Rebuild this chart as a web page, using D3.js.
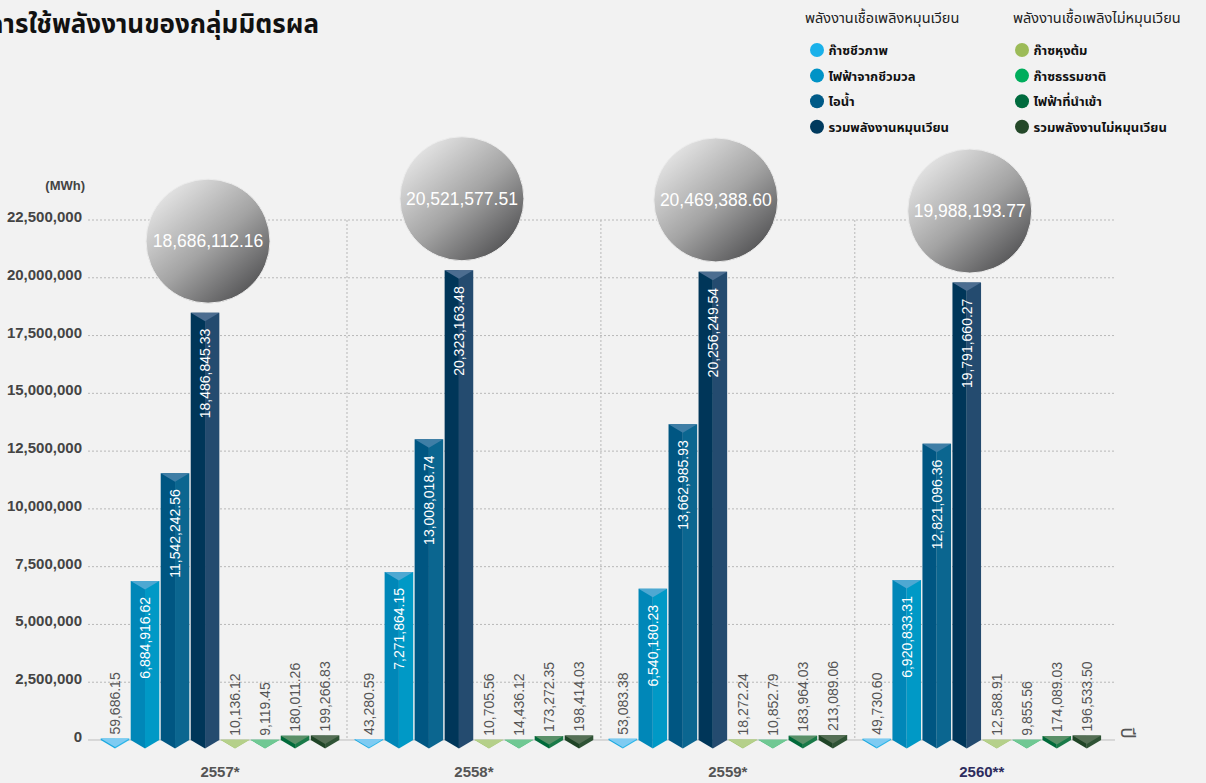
<!DOCTYPE html>
<html>
<head>
<meta charset="utf-8">
<script src="https://cdn.jsdelivr.net/npm/d3@7"></script>
<style>
  body { margin: 0; background: #f2f2f2; }
  svg { display: block; font-family: "Liberation Sans", Arial, "Noto Sans Thai", "Noto Sans", sans-serif; }
  .thai { font-family: "Noto Sans Thai", "Noto Sans", "Liberation Sans", sans-serif; }
</style>
</head>
<body>
<div id="chart"></div>
<script>
// data (MWh)
const years = ["2557*", "2558*", "2559*", "2560**"];
const series = ["ก๊าซชีวภาพ", "ไฟฟ้าจากชีวมวล", "ไอน้ำ", "รวมพลังงานหมุนเวียน",
                "ก๊าซหุงต้ม", "ก๊าซธรรมชาติ", "ไฟฟ้าที่นำเข้า", "รวมพลังงานไม่หมุนเวียน"];
const biogas = [59686.15, 43280.59, 53083.38, 49730.60];
const biomassPower = [6884916.62, 7271864.15, 6540180.23, 6920833.31];
const steam = [11542242.56, 13008018.74, 13662985.93, 12821096.36];
const renewableTotal = [18486845.33, 20323163.48, 20256249.54, 19791660.27];
const lpg = [10136.12, 10705.56, 18272.24, 12588.91];
const naturalGas = [9119.45, 14436.12, 10852.79, 9855.56];
const importedPower = [180011.26, 173272.35, 183964.03, 174089.03];
const nonRenewableTotal = [199266.83, 198414.03, 213089.06, 196533.50];
// grand totals as printed in the bubbles
const grandTotal = [18686112.16, 20521577.51, 20469388.60, 19988193.77];
const yTicks = [0, 2500000, 5000000, 7500000, 10000000, 12500000, 15000000, 17500000, 20000000, 22500000];

const seriesValues = [biogas, biomassPower, steam, renewableTotal, lpg, naturalGas, importedPower, nonRenewableTotal];

// left face, right face, top lid, legend dot
const palette = [
  {l: "#1aa9e0", r: "#2bb5e8", lid: "#7ecbf2", dot: "#1ab1ea"},
  {l: "#0087b8", r: "#0099c6", lid: "#4ea8d2", dot: "#0093c6"},
  {l: "#005682", r: "#0b6690", lid: "#3f7ea6", dot: "#005a87"},
  {l: "#003659", r: "#244b6f", lid: "#4c6d90", dot: "#003a5e"},
  {l: "#9cc064", r: "#a8c878", lid: "#b5d08a", dot: "#9cbb58"},
  {l: "#3db878", r: "#50c080", lid: "#70c893", dot: "#00ad5c"},
  {l: "#006a3a", r: "#1a7a48", lid: "#5a9068", dot: "#006b3e"},
  {l: "#1f4426", r: "#2f5335", lid: "#556f55", dot: "#244829"}
];

const W = 1206, H = 783;
const svg = d3.select("#chart").append("svg").attr("width", W).attr("height", H);

const y = d3.scaleLinear().domain([0, 22500000]).range([740, 220]);
const x0 = d3.scaleBand().domain(years).range([100.7, 1101.1]).paddingInner(0.06);
const x1 = d3.scaleBand().domain(d3.range(8)).range([0, x0.bandwidth()]).paddingInner(0.047);
const fmt = d3.format(",.2f");

// title (cut at the left edge like the source)
svg.append("text").attr("class", "thai")
  .attr("x", 319).attr("y", 33).attr("text-anchor", "end")
  .attr("font-size", 26).attr("font-weight", "bold").attr("fill", "#111")
  .text("การใช้พลังงานของกลุ่มมิตรผล");

// legend
const legendCols = [
  {x: 817, title: "พลังงานเชื้อเพลิงหมุนเวียน", tx: 805, items: [0, 1, 2, 3]},
  {x: 1022, title: "พลังงานเชื้อเพลิงไม่หมุนเวียน", tx: 1013, items: [4, 5, 6, 7]}
];
legendCols.forEach(col => {
  svg.append("text").attr("class", "thai").attr("x", col.tx).attr("y", 23)
    .attr("font-size", 14.5).attr("fill", "#222").text(col.title);
  col.items.forEach((s, i) => {
    const cy = 50 + i * 25.6;
    svg.append("circle").attr("cx", col.x).attr("cy", cy).attr("r", 7).attr("fill", palette[s].dot);
    svg.append("text").attr("class", "thai").attr("x", col.x + 11.5).attr("y", cy + 5)
      .attr("font-size", 13).attr("font-weight", "bold").attr("fill", "#111").text(series[s]);
  });
});

// y grid + labels
svg.append("g").selectAll("line").data(yTicks.slice(1)).enter().append("line")
  .attr("x1", 88).attr("x2", 1115)
  .attr("y1", d => y(d)).attr("y2", d => y(d))
  .attr("stroke", "#b8b8b8").attr("stroke-width", 1).attr("stroke-dasharray", "2,2");
svg.append("line").attr("x1", 88).attr("x2", 1115).attr("y1", y(0)).attr("y2", y(0))
  .attr("stroke", "#bdbdbd").attr("stroke-width", 1);
svg.append("g").selectAll("text").data(yTicks).enter().append("text")
  .attr("x", 82).attr("y", d => y(d) + 2).attr("text-anchor", "end")
  .attr("font-size", 15).attr("font-weight", "bold").attr("fill", "#444")
  .text(d => d3.format(",")(d));
svg.append("text").attr("x", 85).attr("y", 190).attr("text-anchor", "end")
  .attr("font-size", 13).attr("font-weight", "bold").attr("fill", "#444").text("(MWh)");

// group separators
years.slice(1).forEach(yr => {
  const sx = x0(yr) - x0.step() * x0.paddingInner() / 2;
  svg.append("line").attr("x1", sx).attr("x2", sx).attr("y1", y(22500000)).attr("y2", y(0))
    .attr("stroke", "#b8b8b8").attr("stroke-dasharray", "2,2");
});

// x axis label
svg.append("text").attr("class", "thai")
  .attr("transform", "translate(1121,733) rotate(90)")
  .attr("text-anchor", "middle").attr("font-size", 19).attr("fill", "#555").text("ปี");

// bubble gradient
const defs = svg.append("defs");
const grad = defs.append("linearGradient").attr("id", "bubble")
  .attr("x1", "15%").attr("y1", "10%").attr("x2", "90%").attr("y2", "95%");
grad.append("stop").attr("offset", "0%").attr("stop-color", "#e4e4e4");
grad.append("stop").attr("offset", "50%").attr("stop-color", "#a3a3a3");
grad.append("stop").attr("offset", "100%").attr("stop-color", "#4b4b4d");

const base = y(0);
const tip = 8.5;

years.forEach((yr, gi) => {
  const g = svg.append("g").attr("transform", `translate(${x0(yr)},0)`);
  seriesValues.forEach((vals, si) => {
    const v = vals[gi];
    const bx = x1(si), bw = x1.bandwidth(), cx = bx + bw / 2;
    const top = y(v);
    const c = palette[si];
    // faces
    g.append("path").attr("fill", c.l)
      .attr("d", `M${bx},${top}L${cx},${top}L${cx},${base + tip}L${bx},${base}Z`);
    g.append("path").attr("fill", c.r)
      .attr("d", `M${cx},${top}L${bx + bw},${top}L${bx + bw},${base}L${cx},${base + tip}Z`);
    // lid
    g.append("path").attr("fill", c.lid)
      .attr("d", `M${bx},${top}L${bx + bw},${top}L${cx},${top + tip}Z`);
    // value label
    const inside = v > 1000000;
    g.append("text")
      .attr("transform", `translate(${cx},${inside ? top + 16 : top - 4}) rotate(-90)`)
      .attr("dy", "0.36em")
      .attr("text-anchor", inside ? "end" : "start")
      .attr("font-size", 14).attr("fill", inside ? "#fff" : "#555")
      .text(fmt(v));
  });
  // year label
  g.append("text").attr("x", x0.bandwidth() / 2).attr("y", 777).attr("text-anchor", "middle")
    .attr("font-size", 15).attr("font-weight", "bold")
    .attr("fill", gi === 3 ? "#2e2d5e" : "#555").text(yr);
  // total bubble
  const total = grandTotal[gi];
  const bcx = x1(3) + x1.bandwidth() / 2 + 3;
  const bcy = y(total) - 67;
  g.append("circle").attr("cx", bcx).attr("cy", bcy).attr("r", 62)
    .attr("fill", "url(#bubble)").attr("stroke", "#ececec").attr("stroke-width", 1);
  g.append("text").attr("x", bcx).attr("y", bcy).attr("dy", "0.36em").attr("text-anchor", "middle")
    .attr("font-size", 17.5).attr("fill", "#fff").text(fmt(total));
});
</script>
</body>
</html>
